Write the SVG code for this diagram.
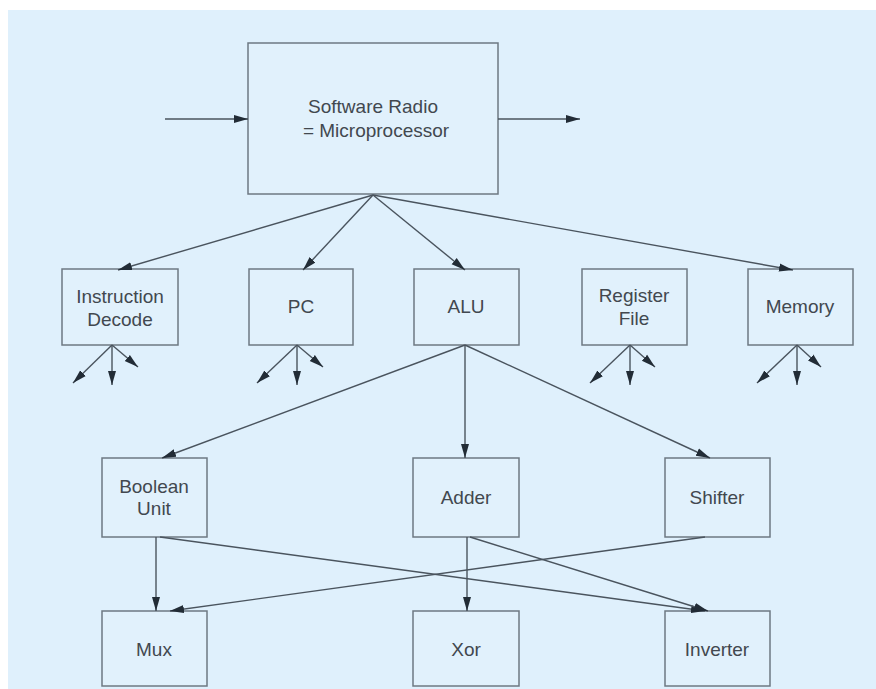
<svg xmlns="http://www.w3.org/2000/svg" width="876" height="689" viewBox="0 0 876 689">
<defs>
<marker id="ah" markerUnits="userSpaceOnUse" markerWidth="16" markerHeight="10" refX="14" refY="5" orient="auto">
<path d="M0,1 L14,5 L0,9 Z" fill="#222c36"/>
</marker>
<style>
.bg{fill:#dff0fc}
.box{fill:#e1f1fc;stroke:#6e7882;stroke-width:1.5}
.t{font-family:"Liberation Sans",Arial,sans-serif;font-size:19px;fill:#42484f;text-anchor:middle}
.c line{stroke:#4a545e;stroke-width:1.4;marker-end:url(#ah)}
</style>
</defs>
<rect width="876" height="689" fill="#ffffff"/>
<rect class="bg" x="8" y="10" width="868" height="679"/>

<g id="software-radio">
<rect class="box" x="248" y="43" width="250" height="151"/>
<text class="t" x="373" y="113">Software Radio</text>
<text class="t" x="376" y="137">= Microprocessor</text>
</g>
<g id="instruction-decode">
<rect class="box" x="62" y="269" width="116" height="76"/>
<text class="t" x="120" y="303">Instruction</text>
<text class="t" x="120" y="326">Decode</text>
</g>
<g id="pc">
<rect class="box" x="249" y="269" width="104" height="76"/>
<text class="t" x="301" y="313">PC</text>
</g>
<g id="alu">
<rect class="box" x="414" y="269" width="105" height="76"/>
<text class="t" x="466" y="313">ALU</text>
</g>
<g id="register-file">
<rect class="box" x="582" y="269" width="105" height="76"/>
<text class="t" x="634" y="302">Register</text>
<text class="t" x="634" y="325">File</text>
</g>
<g id="memory">
<rect class="box" x="748" y="269" width="105" height="76"/>
<text class="t" x="800" y="313">Memory</text>
</g>
<g id="boolean-unit">
<rect class="box" x="102" y="458" width="105" height="79"/>
<text class="t" x="154" y="493">Boolean</text>
<text class="t" x="154" y="515">Unit</text>
</g>
<g id="adder">
<rect class="box" x="413" y="458" width="106" height="79"/>
<text class="t" x="466" y="504">Adder</text>
</g>
<g id="shifter">
<rect class="box" x="665" y="458" width="105" height="79"/>
<text class="t" x="717" y="504">Shifter</text>
</g>
<g id="mux">
<rect class="box" x="102" y="611" width="105" height="75"/>
<text class="t" x="154" y="656">Mux</text>
</g>
<g id="xor">
<rect class="box" x="413" y="611" width="106" height="75"/>
<text class="t" x="466" y="656">Xor</text>
</g>
<g id="inverter">
<rect class="box" x="665" y="611" width="105" height="75"/>
<text class="t" x="717" y="656">Inverter</text>
</g>

<g id="connectors" class="c">
<line x1="165" y1="119" x2="248" y2="119"/>
<line x1="498" y1="119" x2="580" y2="119"/>
<line x1="373" y1="195" x2="118" y2="270"/>
<line x1="373" y1="195" x2="303" y2="270"/>
<line x1="373" y1="195" x2="465" y2="270"/>
<line x1="373" y1="195" x2="793" y2="270"/>

<line x1="112" y1="345" x2="73" y2="383"/>
<line x1="112" y1="345" x2="112" y2="385"/>
<line x1="112" y1="345" x2="138" y2="367"/>
<line x1="297" y1="345" x2="257" y2="383"/>
<line x1="297" y1="345" x2="297" y2="385"/>
<line x1="297" y1="345" x2="323" y2="367"/>
<line x1="630" y1="345" x2="590" y2="383"/>
<line x1="630" y1="345" x2="630" y2="385"/>
<line x1="630" y1="345" x2="655" y2="367"/>
<line x1="797" y1="345" x2="757" y2="383"/>
<line x1="797" y1="345" x2="797" y2="385"/>
<line x1="797" y1="345" x2="821" y2="367"/>

<line x1="465" y1="345" x2="162" y2="458"/>
<line x1="465" y1="345" x2="465" y2="458"/>
<line x1="465" y1="345" x2="710" y2="458"/>

<line x1="156" y1="537" x2="156" y2="611"/>
<line x1="705" y1="537" x2="170" y2="611"/>
<line x1="160" y1="537" x2="705" y2="611"/>
<line x1="467" y1="537" x2="467" y2="611"/>
<line x1="470" y1="537" x2="708" y2="611"/>
</g>
</svg>
